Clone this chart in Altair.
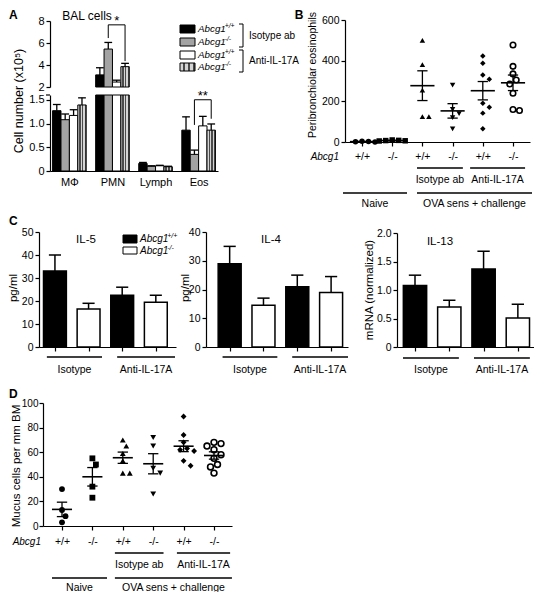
import json
import altair as alt
import pandas as pd

# ===================== DATA =====================
# Panel A - BAL cells, cell number (x10^5): bar heights and upper SEM ends
A_cells = ["MΦ", "PMN", "Lymph", "Eos"]
A_wt_iso = [1.27, 3.10, 0.16, 0.86]
A_wt_iso_err = [1.40, 3.75, 0.18, 1.14]
A_ko_iso = [1.08, 5.45, 0.10, 0.35]
A_ko_iso_err = [1.20, 6.05, 0.11, 0.44]
A_wt_anti = [1.17, 2.45, 0.11, 0.95]
A_wt_anti_err = [1.29, 2.62, 0.12, 1.15]
A_ko_anti = [1.39, 3.85, 0.09, 0.86]
A_ko_anti_err = [1.54, 4.15, 0.10, 0.99]
A_legend_sup = ["+/+", "-/-", "+/+", "-/-"]
A_treatments = ["Isotype ab", "Anti-IL-17A"]
A_stars = ["*", "**"]

# Panel B - peribronchiolar eosinophils, individual animals
B_genotypes = ["+/+", "-/-", "+/+", "-/-", "+/+", "-/-"]
B_naive_wt = [0, 2, 4, 1]
B_naive_ko = [5, 8, 10, 6, 7]
B_iso_wt = [500, 380, 255, 125, 125]
B_iso_ko = [280, 160, 140, 120, 65]
B_anti_wt = [423, 387, 330, 309, 191, 171, 142, 65]
B_anti_ko = [477, 372, 335, 305, 285, 240, 160, 155]
B_treatments = ["Isotype ab", "Anti-IL-17A"]
B_conditions = ["Naive", "OVA sens + challenge"]

# Panel C - cytokines (mean and upper SEM end), order: isotype, anti-IL-17A
C_treatments = ["Isotype", "Anti-IL-17A"]
C_titles = ["IL-5", "IL-4", "IL-13"]
IL5_wt = [33, 22.5]
IL5_wt_err = [40, 26]
IL5_ko = [16.5, 19.5]
IL5_ko_err = [19, 22.5]
IL4_wt = [29, 21]
IL4_wt_err = [35, 25]
IL4_ko = [14.5, 19]
IL4_ko_err = [17, 24.5]
IL13_wt = [1.08, 1.37]
IL13_wt_err = [1.26, 1.68]
IL13_ko = [0.70, 0.51]
IL13_ko_err = [0.82, 0.75]

# Panel D - mucus cells per mm BM, individual animals
D_naive_wt = [30, 13, 8, 3]
D_naive_ko = [55, 50, 32, 23]
D_iso_wt = [70, 65, 59, 53, 43, 43]
D_iso_ko = [72, 65, 47, 43, 26]
D_anti_wt = [89, 74, 68, 63, 62, 61, 53, 49]
D_anti_ko = [68, 67, 65, 62, 58, 55, 50, 48, 43]

# ===================== LAYOUT / STYLE =====================
OFF = 8
W, H = 526, 584
FONT = "Liberation Sans"
ONE = pd.DataFrame({"k": [0]})


def sc(domain, p0, p1, clamp=False):
    return alt.Scale(domain=list(domain), range=[p0 - OFF, p1 - OFF],
                     nice=False, zero=False, clamp=clamp)


def yax(xpx, values, expr=None, size=10.5, pad=2):
    d = dict(orient="left", offset=-(xpx - OFF), values=values, title=None,
             grid=False, tickSize=4, labelPadding=pad, labelFontSize=size)
    if expr:
        d["labelExpr"] = expr
    return alt.Axis(**d)


def xax(ypx, values, expr=None, labels=True, ticks=True, pad=4, size=10.5):
    d = dict(orient="bottom", offset=(ypx - OFF) - H, values=values, title=None,
             grid=False, labels=labels, ticks=ticks, tickSize=4,
             labelPadding=pad, labelFontSize=size)
    if expr:
        d["labelExpr"] = expr
    return alt.Axis(**d)


def nx(f, X):
    return alt.X(f, type="quantitative", scale=X, axis=None)


def ny(f, Y):
    return alt.Y(f, type="quantitative", scale=Y, axis=None)


def text(s, x, y, size=11, align="center", angle=0, italic=False, bold=False):
    kw = dict(fontSize=size, align=align, baseline="middle", font=FONT, color="black")
    if angle:
        kw["angle"] = angle
    if italic:
        kw["fontStyle"] = "italic"
    if bold:
        kw["fontWeight"] = "bold"
    return alt.Chart(ONE).mark_text(text=s, **kw).encode(
        x=alt.value(x - OFF), y=alt.value(y - OFF))


def hline(x1, x2, y, w=1.2):
    return alt.Chart(ONE).mark_rule(color="black", strokeWidth=w).encode(
        x=alt.value(x1 - OFF), x2=alt.value(x2 - OFF), y=alt.value(y - OFF))


def vline(x, y1, y2, w=1.2):
    return alt.Chart(ONE).mark_rule(color="black", strokeWidth=w).encode(
        x=alt.value(x - OFF), y=alt.value(y1 - OFF), y2=alt.value(y2 - OFF))


def box(x1, x2, y1, y2, fill):
    return alt.Chart(ONE).mark_rect(fill=fill, stroke="black", strokeWidth=1).encode(
        x=alt.value(x1 - OFF), x2=alt.value(x2 - OFF),
        y=alt.value(y1 - OFF), y2=alt.value(y2 - OFF))


def gene(x, y, sup, size=10):
    w = size * 2.72
    return [text("Abcg1", x, y, size=size, align="left", italic=True),
            text(sup, x + w, y - size * 0.35, size=size * 0.7, align="left", italic=True)]


def stripes(n=3, light="#d4d4d4", dark="#4a4a4a"):
    stops = []
    for k in range(n):
        a, b, c = k / n, (k + 0.55) / n, (k + 1) / n
        stops += [alt.GradientStop(offset=a, color=light), alt.GradientStop(offset=b, color=light),
                  alt.GradientStop(offset=b, color=dark), alt.GradientStop(offset=c, color=dark)]
    return alt.LinearGradient(gradient="linear", stops=stops, x1=0, x2=1, y1=0, y2=0)


HATCH = stripes()
A_FILLS = ["black", "#a3a3a3", "white", HATCH]


def swarm(vals, ppx, ppy, d):
    placed = []
    res = [0.0] * len(vals)
    order = sorted(range(len(vals)), key=lambda k: -vals[k])
    for k in order:
        yp = vals[k] * ppy
        n = 0
        while True:
            off = ((n + 1) // 2) * (1 if n % 2 else -1) * 0.5 * d
            if all((off - px) ** 2 + (yp - py) ** 2 >= d * d for px, py in placed):
                break
            n += 1
        placed.append((off, yp))
        res[k] = off / ppx
    return res


def under(X, spans, labels, y_line, y_text, size=10.5):
    df = pd.DataFrame(dict(a=[s[0] for s in spans], b=[s[1] for s in spans], lab=labels))
    line = alt.Chart(df).mark_rule(color="black", strokeWidth=1.5).encode(
        x=nx("a", X), x2=alt.X2("b"), y=alt.value(y_line - OFF))
    t = alt.Chart(df).transform_calculate(c="(datum.a + datum.b) / 2").mark_text(
        font=FONT, fontSize=size, baseline="middle", align="center", color="black").encode(
        x=nx("c", X), y=alt.value(y_text - OFF), text="lab:N")
    return [line, t]


layers = []

# ===================== PANEL A =====================
AX = sc([-0.45, 3.45], 50, 218)
AYL = sc([0, 1.6], 171, 95, clamp=True)
AYU = sc([2, 8], 87, 21, clamp=True)
AW = 0.195
A_series = [(A_wt_iso, A_wt_iso_err), (A_ko_iso, A_ko_iso_err),
            (A_wt_anti, A_wt_anti_err), (A_ko_anti, A_ko_anti_err)]
dfA = pd.DataFrame([dict(i=i, s=s, v=v, e=e)
                    for s, (vs, es) in enumerate(A_series)
                    for i, (v, e) in enumerate(zip(vs, es))])
PMN = A_cells.index("PMN")
EOS = A_cells.index("Eos")
baseA = alt.Chart(dfA).transform_calculate(
    x1=f"datum.i + (datum.s - 2) * {AW}",
    x2=f"datum.i + (datum.s - 1) * {AW}",
    c=f"datum.i + (datum.s - 1.5) * {AW}",
    cl=f"datum.i + (datum.s - 1.5) * {AW} - 0.09",
    cr=f"datum.i + (datum.s - 1.5) * {AW} + 0.09",
    z="0", b="2")
A_xexpr = json.dumps(A_cells, ensure_ascii=False) + "[datum.value]"
A_lowexpr = "datum.value == 0 ? '0' : format(datum.value, '.1f')"
for s in range(4):
    fill = A_FILLS[s]
    sb = baseA.transform_filter(f"datum.s == {s}")
    layers.append(sb.mark_bar(fill=fill, stroke="black", strokeWidth=1).encode(
        x=alt.X("x1:Q", scale=AX, axis=xax(171, [0, 1, 2, 3], A_xexpr, ticks=False, pad=5, size=11) if s == 0 else None),
        x2=alt.X2("x2"),
        y=alt.Y("v:Q", scale=AYL, axis=yax(50, [0, 0.5, 1, 1.5], A_lowexpr, size=11) if s == 0 else None),
        y2=alt.Y2("z")))
    layers.append(sb.transform_filter(f"datum.i == {PMN}").mark_bar(fill=fill, stroke="black", strokeWidth=1).encode(
        x=nx("x1", AX), x2=alt.X2("x2"),
        y=alt.Y("v:Q", scale=AYU, axis=yax(50, [2, 4, 6, 8], size=11) if s == 0 else None),
        y2=alt.Y2("b")))
errL = baseA.transform_filter(f"datum.i != {PMN}")
errU = baseA.transform_filter(f"datum.i == {PMN}")
for eb, Y in [(errL, AYL), (errU, AYU)]:
    layers.append(eb.mark_rule(color="black", strokeWidth=1.3).encode(
        x=nx("c", AX), y=ny("v", Y), y2=alt.Y2("e")))
    layers.append(eb.mark_rule(color="black", strokeWidth=1.3).encode(
        x=nx("cl", AX), x2=alt.X2("cr"), y=ny("e", Y)))
# axis break mark
layers.append(hline(46, 50, 95))
# significance brackets
sig = [(A_stars[0], PMN, 1, 3, 7.65, 6.45, 4.35, AYU), (A_stars[1], EOS, 1, 3, 1.5, 0.97, 1.1, AYL)]
for lab, i, sl, sr, top, lb, rb, Y in sig:
    xl = i + (sl - 1.5) * AW
    xr = i + (sr - 1.5) * AW
    seg = pd.DataFrame(dict(xa=[xl, xl, xr], xb=[xr, xl, xr], ya=[top, lb, rb], yb=[top, top, top]))
    layers.append(alt.Chart(seg).mark_rule(color="black", strokeWidth=1).encode(
        x=nx("xa", AX), x2=alt.X2("xb"), y=ny("ya", Y), y2=alt.Y2("yb")))
    st = pd.DataFrame(dict(x=[(xl + xr) / 2], y=[top], t=[lab]))
    layers.append(alt.Chart(st).mark_text(font=FONT, fontSize=13, baseline="middle", dy=-4, color="black").encode(
        x=nx("x", AX), y=ny("y", Y), text="t:N"))
layers.append(text("A", 9, 15, size=12, align="left", bold=True))
layers.append(text("BAL cells", 87, 16, size=12))
layers.append(text("Cell number (x10⁵)", 19, 101, size=12.5, angle=270))
# legend
rows_y = [29, 42, 55, 67]
for s, yy in enumerate(rows_y):
    layers.append(box(180, 195, yy - 4, yy + 4, A_FILLS[s]))
    layers += gene(198, yy, A_legend_sup[s], size=9.8)
for (y1, y2), lab, ty in [((24, 47), A_treatments[0], 36), ((50, 72), A_treatments[1], 61)]:
    layers.append(vline(243, y1, y2, w=1))
    layers.append(hline(239, 243, y1, w=1))
    layers.append(hline(239, 243, y2, w=1))
    layers.append(text(lab, 249, ty, size=10, align="left"))


# ===================== PANEL B and D (scatter dot plots) =====================
SHAPES = ["circle", "square", "triangle-up", "triangle-down", "diamond", "circle"]
FILLED = [True, True, True, True, True, False]


def dot_panel(groups, X, Y, xaxis, yaxis, ppx, ppy, d, size, half_mean, half_cap):
    rows = []
    for g, vals in enumerate(groups, start=1):
        offs = swarm(vals, ppx, ppy, d)
        for v, o in zip(vals, offs):
            rows.append(dict(g=g, v=v, xj=g + o))
    df = pd.DataFrame(rows)
    out = []
    for g in range(1, 7):
        mk = alt.Chart(df).transform_filter(f"datum.g == {g}").mark_point(
            shape=SHAPES[g - 1], filled=FILLED[g - 1], color="black", opacity=1,
            size=size, strokeWidth=1.6)
        out.append(mk.encode(
            x=alt.X("xj:Q", scale=X, axis=xaxis if g == 1 else None),
            y=alt.Y("v:Q", scale=Y, axis=yaxis if g == 1 else None)))
    agg = alt.Chart(df).transform_aggregate(
        m="mean(v)", se="stderr(v)", groupby=["g"]).transform_calculate(
        lo="datum.m - datum.se", hi="datum.m + datum.se",
        ml=f"datum.g - {half_mean}", mr=f"datum.g + {half_mean}",
        cl=f"datum.g - {half_cap}", cr=f"datum.g + {half_cap}")
    out.append(agg.mark_rule(color="black", strokeWidth=1.6).encode(
        x=nx("ml", X), x2=alt.X2("mr"), y=ny("m", Y)))
    out.append(agg.mark_rule(color="black", strokeWidth=1.3).encode(
        x=nx("g", X), y=ny("lo", Y), y2=alt.Y2("hi")))
    out.append(agg.mark_rule(color="black", strokeWidth=1.3).encode(
        x=nx("cl", X), x2=alt.X2("cr"), y=ny("hi", Y)))
    out.append(agg.mark_rule(color="black", strokeWidth=1.3).encode(
        x=nx("cl", X), x2=alt.X2("cr"), y=ny("lo", Y)))
    return out


geno_expr = json.dumps(B_genotypes) + "[datum.value - 1]"

# Panel B
BX = sc([0.437, 6.563], 345, 530)
BY = sc([0, 600], 142, 20)
layers += dot_panel([B_naive_wt, B_naive_ko, B_iso_wt, B_iso_ko, B_anti_wt, B_anti_ko],
                    BX, BY, xax(142, [1, 2, 3, 4, 5, 6], geno_expr, pad=5),
                    yax(345, [0, 200, 400, 600]),
                    30.2, 122 / 600, 6.5, 30, 0.4, 0.17)
layers += under(BX, [(2.82, 4.34), (4.58, 6.40)], B_treatments, 168, 180)
layers += under(BX, [(0.37, 2.49), (2.82, 6.63)], B_conditions, 193, 204)
layers.append(text("Abcg1", 339, 157, size=10, align="right", italic=True))
layers.append(text("B", 299, 15, size=12, bold=True))
layers.append(text("Peribronchiolar eosinophils", 313, 75, size=10.5, angle=270))

# Panel D
DX = sc([0.375, 6.592], 43, 232)
DY = sc([0, 100], 526, 403)
layers += dot_panel([D_naive_wt, D_naive_ko, D_iso_wt, D_iso_ko, D_anti_wt, D_anti_ko],
                    DX, DY, xax(526, [1, 2, 3, 4, 5, 6], geno_expr, pad=6),
                    yax(43, [0, 20, 40, 60, 80, 100], size=10, pad=1),
                    30.4, 1.235, 7, 34, 0.33, 0.17)
layers += under(DX, [(2.74, 4.34), (4.78, 6.53)], B_treatments, 553, 565)
layers += under(DX, [(0.67, 2.48), (2.74, 6.59)], B_conditions, 578, 588)
layers.append(text("Abcg1", 41, 542, size=10, align="right", italic=True))
layers.append(text("D", 9, 394, size=12, align="left", bold=True))
layers.append(text("Mucus cells per mm BM", 17, 466, size=11.5, angle=270))


# ===================== PANEL C (bar charts) =====================
def bar_panel(wt, wte, ko, koe, X, Y, xaxis, yaxis):
    rows = []
    for k in range(2):
        rows.append(dict(g=2 * k + 1, v=wt[k], e=wte[k], kind=0))
        rows.append(dict(g=2 * k + 2, v=ko[k], e=koe[k], kind=1))
    df = pd.DataFrame(rows)
    base = alt.Chart(df).transform_calculate(
        x1="datum.g - 0.34", x2="datum.g + 0.34", z="0",
        cl="datum.g - 0.18", cr="datum.g + 0.18")
    out = []
    for kind, fill in [(0, "black"), (1, "white")]:
        out.append(base.transform_filter(f"datum.kind == {kind}").mark_bar(
            fill=fill, stroke="black", strokeWidth=1.5).encode(
            x=alt.X("x1:Q", scale=X, axis=xaxis if kind == 0 else None), x2=alt.X2("x2"),
            y=alt.Y("v:Q", scale=Y, axis=yaxis if kind == 0 else None), y2=alt.Y2("z")))
    out.append(base.mark_rule(color="black", strokeWidth=1.5).encode(
        x=nx("g", X), y=ny("v", Y), y2=alt.Y2("e")))
    out.append(base.mark_rule(color="black", strokeWidth=1.5).encode(
        x=nx("cl", X), x2=alt.X2("cr"), y=ny("e", Y)))
    return out


dec_expr = "datum.value == 0 ? '0' : format(datum.value, '.1f')"
# IL-5
X5 = sc([0.526, 4.6], 39, 176)
Y5 = sc([0, 50], 347, 232)
layers += bar_panel(IL5_wt, IL5_wt_err, IL5_ko, IL5_ko_err, X5, Y5,
                    xax(347, [1, 2, 3, 4], labels=False), yax(39, [0, 10, 20, 30, 40, 50]))
layers += under(X5, [(0.76, 2.40), (2.85, 4.57)], C_treatments, 357, 370)
layers.append(text(C_titles[0], 86, 240, size=11.5))
layers.append(text("pg/ml", 14, 288, size=11.5, angle=270))
# IL-4
X4 = sc([0.3, 4.5], 206, 348)
Y4 = sc([0, 40], 347, 232)
layers += bar_panel(IL4_wt, IL4_wt_err, IL4_ko, IL4_ko_err, X4, Y4,
                    xax(347, [1, 2, 3, 4], labels=False), yax(206, [0, 10, 20, 30, 40]))
layers += under(X4, [(0.79, 2.41), (2.85, 4.50)], C_treatments, 357, 370)
layers.append(text(C_titles[1], 271, 240, size=11.5))
layers.append(text("pg/ml", 186, 288, size=11.5, angle=270))
# IL-13
X13 = sc([0.475, 4.5], 397, 535)
Y13 = sc([0, 2], 347, 233)
layers += bar_panel(IL13_wt, IL13_wt_err, IL13_ko, IL13_ko_err, X13, Y13,
                    xax(347, [1, 2, 3, 4], labels=False), yax(397, [0, 0.5, 1, 1.5, 2], dec_expr))
layers += under(X13, [(0.65, 2.28), (2.72, 4.35)], C_treatments, 358, 370)
layers.append(text(C_titles[2], 440, 242, size=11.5))
layers.append(text("mRNA (normalized)", 370, 290, size=11.5, angle=270))
layers.append(text("C", 9, 221, size=12, align="left", bold=True))
# C legend
layers.append(box(123, 137, 235, 243, "black"))
layers.append(box(123, 137, 247, 254, "white"))
layers += gene(140, 239, "+/+", size=10)
layers += gene(140, 251, "-/-", size=10)

# ===================== COMPOSE =====================
chart = alt.layer(*layers).resolve_scale(
    x="independent", y="independent"
).properties(
    width=W, height=H, autosize=alt.AutoSizeParams(type="none"), padding=0,
    background="white"
).configure_view(stroke=None).configure_axis(
    labelFont=FONT, labelColor="black", domainColor="black", tickColor="black",
    domainWidth=1.2, tickWidth=1.2
)

chart.save("out.html", embed_options={"renderer": "svg", "actions": False})
